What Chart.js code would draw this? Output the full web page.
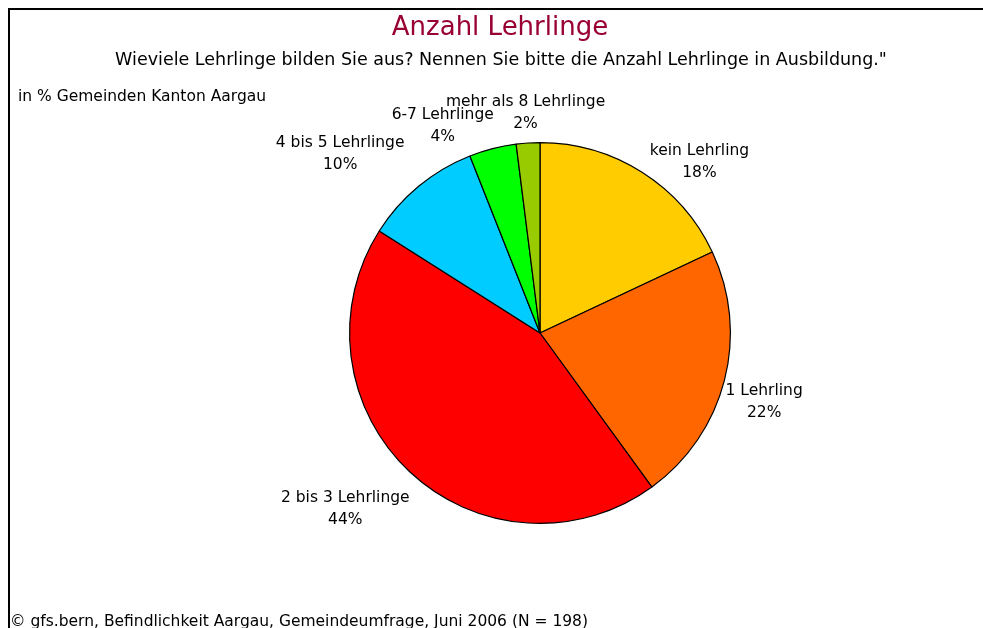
<!DOCTYPE html>
<html>
<head>
<meta charset="utf-8">
<script src="https://cdn.jsdelivr.net/npm/chart.js@4"></script>
<style>
  html, body { margin: 0; padding: 0; background: #fff; }
  #wrap { width: 983px; height: 628px; position: relative; }
</style>
</head>
<body>
<div id="wrap"><canvas id="pieChart" width="983" height="628"></canvas></div>
<script>
const categories = ['kein Lehrling', '1 Lehrling', '2 bis 3 Lehrlinge', '4 bis 5 Lehrlinge', '6-7 Lehrlinge', 'mehr als 8 Lehrlinge'];
const shares = [18, 22, 44, 10, 4, 2];
const sliceColors = ['#FFCC00', '#FF6600', '#FF0000', '#00CCFF', '#00FF00', '#99CC00'];

// label placement tweaks (px) on top of the radial position
const labelNudge = [[36, 24], [1, 12], [-37, 8], [-53, -2], [-40, 16], [0, 10]];

const FONT = '"DejaVu Sans", Tahoma, sans-serif';

const decor = {
  id: 'decor',
  afterDraw(chart) {
    const ctx = chart.ctx;
    ctx.save();
    // frame
    ctx.strokeStyle = '#000';
    ctx.lineWidth = 2;
    ctx.beginPath();
    ctx.moveTo(9, 628);
    ctx.lineTo(9, 9);
    ctx.lineTo(983, 9);
    ctx.stroke();

    ctx.textAlign = 'center';
    ctx.textBaseline = 'middle';
    ctx.fillStyle = '#990033';
    ctx.font = '26px ' + FONT;
    ctx.fillText('Anzahl Lehrlinge', 500, 28);

    ctx.fillStyle = '#000';
    ctx.font = '17.5px ' + FONT;
    ctx.fillText('Wieviele Lehrlinge bilden Sie aus? Nennen Sie bitte die Anzahl Lehrlinge in Ausbildung."', 501, 60);

    ctx.font = '15.5px ' + FONT;
    ctx.textAlign = 'left';
    ctx.fillText('in % Gemeinden Kanton Aargau', 18, 97);
    ctx.fillText('\u00A9 gfs.bern, Befindlichkeit Aargau, Gemeindeumfrage, Juni 2006 (N = 198)', 10, 622);

    // slice labels
    const meta = chart.getDatasetMeta(0);
    ctx.textAlign = 'center';
    meta.data.forEach((arc, i) => {
      const mid = (arc.startAngle + arc.endAngle) / 2;
      const r = arc.outerRadius + 40;
      const x = arc.x + Math.cos(mid) * r + labelNudge[i][0];
      const y = arc.y + Math.sin(mid) * r + labelNudge[i][1];
      ctx.fillText(categories[i], x, y - 11);
      ctx.fillText(shares[i] + '%', x, y + 11);
    });
    ctx.restore();
  }
};

new Chart(document.getElementById('pieChart'), {
  type: 'pie',
  data: {
    labels: categories,
    datasets: [{
      data: shares,
      backgroundColor: sliceColors,
      borderColor: '#000',
      borderWidth: 1.2
    }]
  },
  options: {
    responsive: false,
    animation: false,
    layout: { padding: { top: 141, bottom: 103, left: 349, right: 252 } },
    plugins: {
      legend: { display: false },
      tooltip: { enabled: false }
    }
  },
  plugins: [decor]
});
</script>
</body>
</html>
